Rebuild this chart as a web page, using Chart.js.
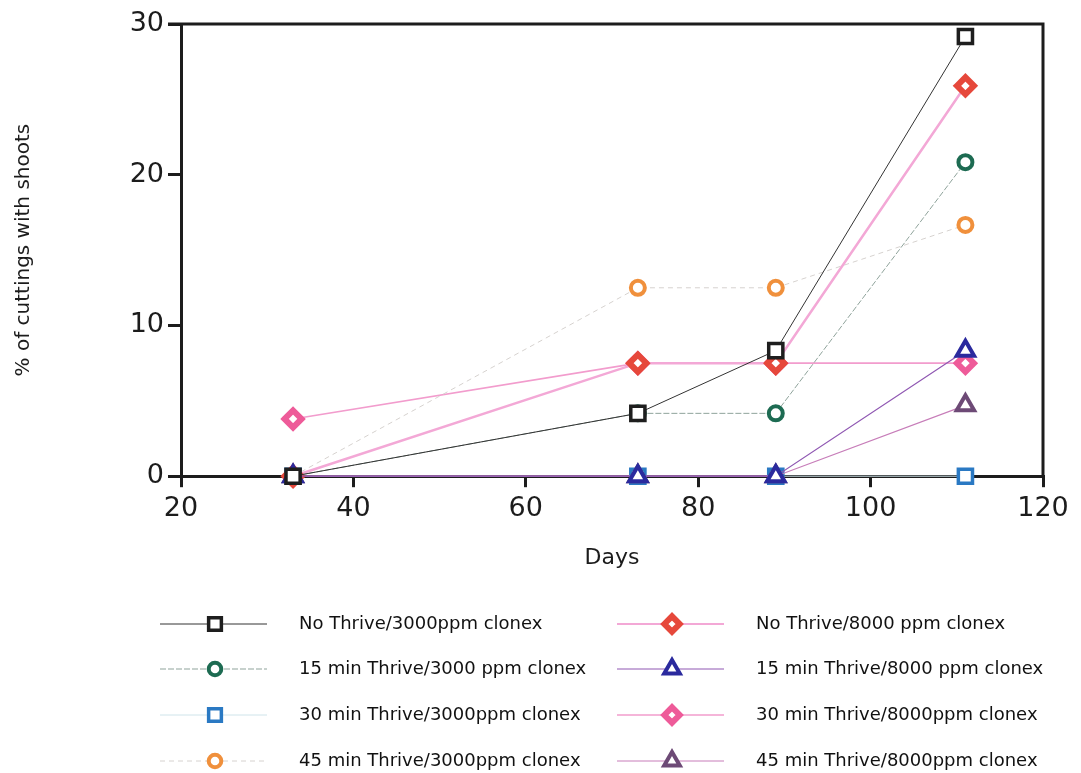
<!DOCTYPE html>
<html>
<head>
<meta charset="utf-8">
<script src="https://cdn.jsdelivr.net/npm/chart.js@4/dist/chart.umd.min.js"></script>
<style>
  html, body { margin: 0; padding: 0; background: #fff; }
  #wrap { width: 1081px; height: 773px; }
</style>
</head>
<body>
<div id="wrap"><canvas id="shoots-chart" width="1081" height="773"></canvas></div>
<script>
// sampling days
const days = [33, 73, 89, 111];

// % of cuttings with shoots per treatment
const noThrive3000 = [0, 4.17, 8.33, 29.17];
const thrive15_3000 = [0, 4.17, 4.17, 20.83];
const thrive30_3000 = [0, 0, 0, 0];
const thrive45_3000 = [0, 12.5, 12.5, 16.67];
const noThrive8000 = [0, 7.5, 7.5, 25.9];
const thrive15_8000 = [0, 0, 0, 8.33];
const thrive30_8000 = [3.8, 7.5, 7.5, 7.5];
const thrive45_8000 = [0, 0, 0, 4.7];

const seriesLabels = [
  'No Thrive/3000ppm clonex',
  '15 min Thrive/3000 ppm clonex',
  '30 min Thrive/3000ppm clonex',
  '45 min Thrive/3000ppm clonex',
  'No Thrive/8000 ppm clonex',
  '15 min Thrive/8000 ppm clonex',
  '30 min Thrive/8000ppm clonex',
  '45 min Thrive/8000ppm clonex'
];

const xTicks = [20, 40, 60, 80, 100, 120];
const yTicks = [0, 10, 20, 30];

const FONT = '"DejaVu Sans", "Liberation Sans", sans-serif';
const INK = '#1c1c1c';

function toPoints(values) {
  return days.map((d, i) => ({ x: d, y: values[i] }));
}

// style per series: marker + line (lower order is drawn on top)
const styles = [
  { values: noThrive3000, point: 'rect', radius: 10, marker: '#1e1e1e', bw: 3.5, line: '#333333', lw: 1, dash: [], order: 1 },
  { values: thrive15_3000, point: 'circle', radius: 7, marker: '#1d6b52', bw: 4, line: '#8fa39b', lw: 1, dash: [6, 2], order: 4 },
  { values: thrive30_3000, point: 'rect', radius: 10, marker: '#2a79c3', bw: 3.5, line: '#cfe4ea', lw: 1, dash: [], order: 8 },
  { values: thrive45_3000, point: 'circle', radius: 7, marker: '#f0903c', bw: 4, line: '#d6d2cf', lw: 1, dash: [5, 4], order: 5 },
  { values: noThrive8000, point: 'rectRot', radius: 8.5, marker: '#e6483b', bw: 6, line: '#f3a8d6', lw: 2.5, dash: [], order: 3 },
  { values: thrive15_8000, point: 'triangle', radius: 10, marker: '#2b2a9e', bw: 4, line: '#8f57b2', lw: 1.2, dash: [], order: 2 },
  { values: thrive30_8000, point: 'rectRot', radius: 8.5, marker: '#ee5b99', bw: 6, line: '#f29ccd', lw: 1.6, dash: [], order: 7 },
  { values: thrive45_8000, point: 'triangle', radius: 10, marker: '#6d4a76', bw: 4, line: '#c77db9', lw: 1.2, dash: [], order: 6 }
];

const datasets = styles.map((s, i) => ({
  label: seriesLabels[i],
  data: toPoints(s.values),
  order: s.order,
  clip: false,
  borderColor: s.line,
  borderWidth: s.lw,
  borderDash: s.dash,
  tension: 0,
  fill: false,
  pointStyle: s.point,
  pointRadius: s.radius,
  pointBorderWidth: s.bw,
  pointBorderColor: s.marker,
  pointBackgroundColor: '#ffffff'
}));

// top and right edges of the plot box
const frameBox = {
  id: 'frameBox',
  beforeDatasetsDraw(chart) {
    const { ctx, chartArea: a } = chart;
    ctx.save();
    ctx.strokeStyle = INK;
    ctx.lineWidth = 3;
    ctx.beginPath();
    ctx.moveTo(a.left - 13, a.top);
    ctx.lineTo(a.right, a.top);
    ctx.lineTo(a.right, a.bottom);
    ctx.stroke();
    ctx.restore();
  }
};

// two-column legend under the chart
const sampleLegend = {
  id: 'sampleLegend',
  afterDraw(chart) {
    const ctx = chart.ctx;
    const colX = [160, 617];
    const rowY = [624, 669, 715, 761];
    ctx.save();
    chart.data.datasets.forEach((ds, i) => {
      const s = styles[i];
      const x0 = colX[Math.floor(i / 4)];
      const y = rowY[i % 4];
      ctx.strokeStyle = s.line;
      ctx.lineWidth = Math.max(1, s.lw * 0.8);
      ctx.setLineDash(s.dash);
      ctx.beginPath();
      ctx.moveTo(x0, y);
      ctx.lineTo(x0 + 107, y);
      ctx.stroke();
      ctx.setLineDash([]);
      ctx.fillStyle = '#ffffff';
      ctx.strokeStyle = s.marker;
      ctx.lineWidth = s.bw;
      Chart.helpers.drawPoint(ctx, {
        pointStyle: s.point,
        radius: s.radius * 0.9,
        rotation: 0,
        borderWidth: s.bw
      }, x0 + 55, y);
      ctx.fillStyle = '#111';
      ctx.font = '18px ' + FONT;
      ctx.textBaseline = 'middle';
      ctx.textAlign = 'left';
      ctx.fillText(ds.label, x0 + 139, y);
    });
    ctx.restore();
  }
};

new Chart(document.getElementById('shoots-chart'), {
  type: 'line',
  data: { datasets },
  plugins: [frameBox, sampleLegend],
  options: {
    responsive: false,
    animation: false,
    events: [],
    layout: { padding: { left: 12, right: 38, top: 24, bottom: 202 } },
    plugins: {
      legend: { display: false },
      tooltip: { enabled: false }
    },
    scales: {
      x: {
        type: 'linear',
        min: 20,
        max: 120,
        afterBuildTicks(scale) { scale.ticks = xTicks.map(v => ({ value: v })); },
        ticks: { color: INK, font: { family: FONT, size: 27 }, padding: 6 },
        grid: { display: true, drawOnChartArea: false, drawTicks: true, tickLength: 11, color: INK, lineWidth: 3 },
        border: { display: true, color: INK, width: 3 },
        title: { display: true, text: 'Days', color: INK, font: { family: FONT, size: 22 }, padding: { top: 13, bottom: 0 } }
      },
      y: {
        min: 0,
        max: 30,
        afterBuildTicks(scale) { scale.ticks = yTicks.map(v => ({ value: v })); },
        afterFit(scale) { scale.width = 169; },
        ticks: { color: INK, font: { family: FONT, size: 27 }, padding: 4 },
        grid: { display: true, drawOnChartArea: false, drawTicks: true, tickLength: 13, color: INK, lineWidth: 3 },
        border: { display: true, color: INK, width: 3 },
        title: { display: true, text: '% of cuttings with shoots', color: INK, font: { family: FONT, size: 20 }, padding: { top: 0, bottom: 0 } }
      }
    }
  }
});
</script>
</body>
</html>
